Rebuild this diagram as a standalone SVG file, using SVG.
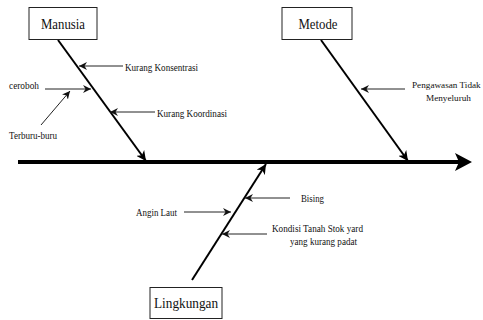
<svg xmlns="http://www.w3.org/2000/svg" width="483" height="320" viewBox="0 0 483 320">
<defs>
<style>
.box{fill:#fff;stroke:#222;stroke-width:1}
.head{font-family:'Liberation Serif','Times New Roman','DejaVu Serif',serif;font-size:14px;fill:#111;text-anchor:middle}
.lbl{font-family:'Liberation Serif','Times New Roman','DejaVu Serif',serif;font-size:10px;fill:#111}
.sm{font-size:9.2px}
.bone{stroke:#000;stroke-width:2;fill:none}
.cause{stroke:#222;stroke-width:1;fill:none}
.spine{stroke:#000;stroke-width:4;fill:none}
</style>
<marker id="bh" markerUnits="userSpaceOnUse" markerWidth="11" markerHeight="10" refX="10" refY="5" orient="auto">
<path d="M0,0 L10,5 L0,10 L3,5 z" fill="#000"/>
</marker>
<marker id="sh" markerUnits="userSpaceOnUse" markerWidth="9" markerHeight="8" refX="8" refY="4" orient="auto">
<path d="M0,0 L8,4 L0,8 L2.5,4 z" fill="#111"/>
</marker>
</defs>
<rect width="483" height="320" fill="#fff"/>
<g id="connectors">
<line class="spine" x1="18" y1="162" x2="460" y2="162"/>
<polygon points="455,153 472,162 455,171 459,162" fill="#000"/>
<line class="bone" x1="58" y1="40" x2="146" y2="161" marker-end="url(#bh)"/>
<line class="bone" x1="321" y1="40" x2="408" y2="161" marker-end="url(#bh)"/>
<line class="bone" x1="192" y1="280" x2="266" y2="164" marker-end="url(#bh)"/>
<line class="cause" x1="123" y1="66" x2="79" y2="66" marker-end="url(#sh)"/>
<line class="cause" x1="45" y1="89" x2="91" y2="89" marker-end="url(#sh)"/>
<line class="cause" x1="41" y1="125" x2="70" y2="91" marker-end="url(#sh)"/>
<line class="cause" x1="155" y1="112" x2="110" y2="112" marker-end="url(#sh)"/>
<line class="cause" x1="405" y1="89" x2="361" y2="89" marker-end="url(#sh)"/>
<line class="cause" x1="290" y1="198" x2="245" y2="198" marker-end="url(#sh)"/>
<line class="cause" x1="184" y1="212" x2="231" y2="212" marker-end="url(#sh)"/>
<line class="cause" x1="267" y1="234" x2="222" y2="234" marker-end="url(#sh)"/>
</g>
<g id="manusia">
<rect class="box" x="29" y="7.5" width="68" height="32"/>
<text class="head" x="63" y="29" textLength="44" lengthAdjust="spacingAndGlyphs">Manusia</text>
</g>
<g id="metode">
<rect class="box" x="282" y="7.5" width="70" height="32"/>
<text class="head" x="318" y="29" textLength="39" lengthAdjust="spacingAndGlyphs">Metode</text>
</g>
<g id="lingkungan">
<rect class="box" x="150" y="287.5" width="72" height="31"/>
<text class="head" x="186" y="308" textLength="64" lengthAdjust="spacingAndGlyphs">Lingkungan</text>
</g>
<g id="kurang-konsentrasi"><text class="lbl" x="125" y="70.5" textLength="73" lengthAdjust="spacingAndGlyphs">Kurang Konsentrasi</text></g>
<g id="ceroboh"><text class="lbl" x="9" y="88.5" textLength="30" lengthAdjust="spacingAndGlyphs">ceroboh</text></g>
<g id="terburu-buru"><text class="lbl" x="9" y="138.5" textLength="48" lengthAdjust="spacingAndGlyphs">Terburu-buru</text></g>
<g id="kurang-koordinasi"><text class="lbl" x="157" y="116.5" textLength="70" lengthAdjust="spacingAndGlyphs">Kurang Koordinasi</text></g>
<g id="pengawasan"><text class="lbl sm" x="412" y="87.5">Pengawasan Tidak</text>
<text class="lbl sm" x="426" y="100.5">Menyeluruh</text></g>
<g id="bising"><text class="lbl" x="301" y="201.5" textLength="23" lengthAdjust="spacingAndGlyphs">Bising</text></g>
<g id="angin-laut"><text class="lbl" x="136" y="215.5" textLength="41" lengthAdjust="spacingAndGlyphs">Angin Laut</text></g>
<g id="kondisi"><text class="lbl" x="272" y="232" textLength="91" lengthAdjust="spacingAndGlyphs">Kondisi Tanah Stok yard</text>
<text class="lbl" x="290" y="245" textLength="67" lengthAdjust="spacingAndGlyphs">yang kurang padat</text></g>
</svg>
